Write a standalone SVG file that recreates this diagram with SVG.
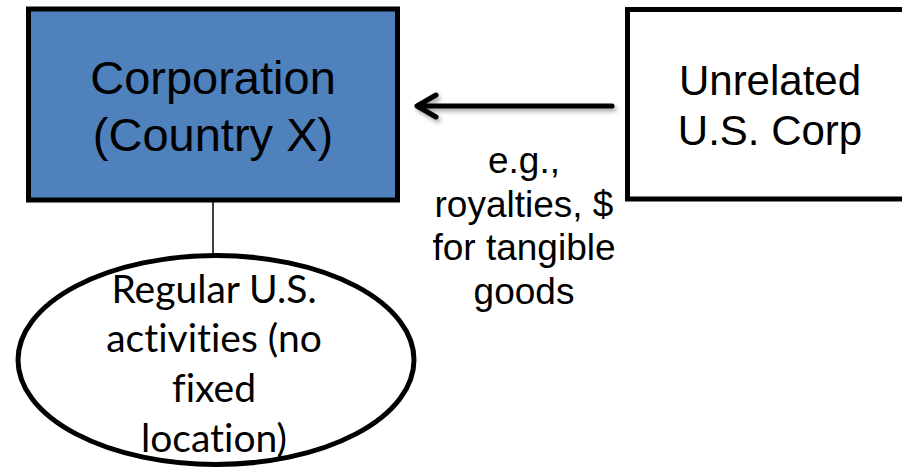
<svg xmlns="http://www.w3.org/2000/svg" width="902" height="468" viewBox="0 0 902 468">
<style>
.box{stroke:#000;stroke-width:5}
.t{font-family:"Liberation Sans",Arial,sans-serif;fill:#000;text-anchor:middle}
.c{font-family:Lato,"Open Sans",sans-serif;fill:#000;text-anchor:middle;font-size:39px;font-variant-ligatures:none;font-feature-settings:"liga" 0,"clig" 0}
</style>
<defs>
<filter id="sh" x="-10%" y="-50%" width="120%" height="200%">
<feDropShadow dx="2" dy="3" stdDeviation="2" flood-color="#000" flood-opacity="0.35"/>
</filter>
</defs>
<rect width="902" height="468" fill="#fff"/>
<g id="connectors">
<line x1="213" y1="202" x2="213" y2="254" stroke="#000" stroke-width="1.5"/>
<g filter="url(#sh)" fill="none" stroke="#000" stroke-width="5" stroke-linecap="round" stroke-linejoin="round">
<line x1="612" y1="106" x2="418" y2="106"/>
<polyline points="436,95 417,106 436,117"/>
</g>
<text class="t" font-size="37" x="524"><tspan x="524" y="173">e.g.,</tspan><tspan x="524" y="216.5">royalties, $</tspan><tspan x="524" y="260">for tangible</tspan><tspan x="524" y="303.5">goods</tspan></text>
</g>
<g id="corp">
<rect class="box" x="28.5" y="9" width="369" height="191" fill="#4F81BD"/>
<text class="t" font-size="47" x="213"><tspan x="213" y="94">Corporation</tspan><tspan x="213" y="150.5">(Country X)</tspan></text>
</g>
<g id="unrelated">
<rect class="box" x="627.5" y="9.5" width="300" height="189.5" fill="#fff"/>
<text class="t" font-size="42" x="770"><tspan x="770" y="94.5">Unrelated</tspan><tspan x="770" y="145">U.S. Corp</tspan></text>
</g>
<g id="activities">
<ellipse class="box" cx="216" cy="360" rx="198" ry="104.5" fill="#fff"/>
<text class="c" x="214"><tspan x="214" y="302.5">Regular U.S.</tspan><tspan x="214" y="352">activities (no</tspan><tspan x="214" y="401.5">fixed</tspan><tspan x="214" y="451.5">location)</tspan></text>
</g>
</svg>
